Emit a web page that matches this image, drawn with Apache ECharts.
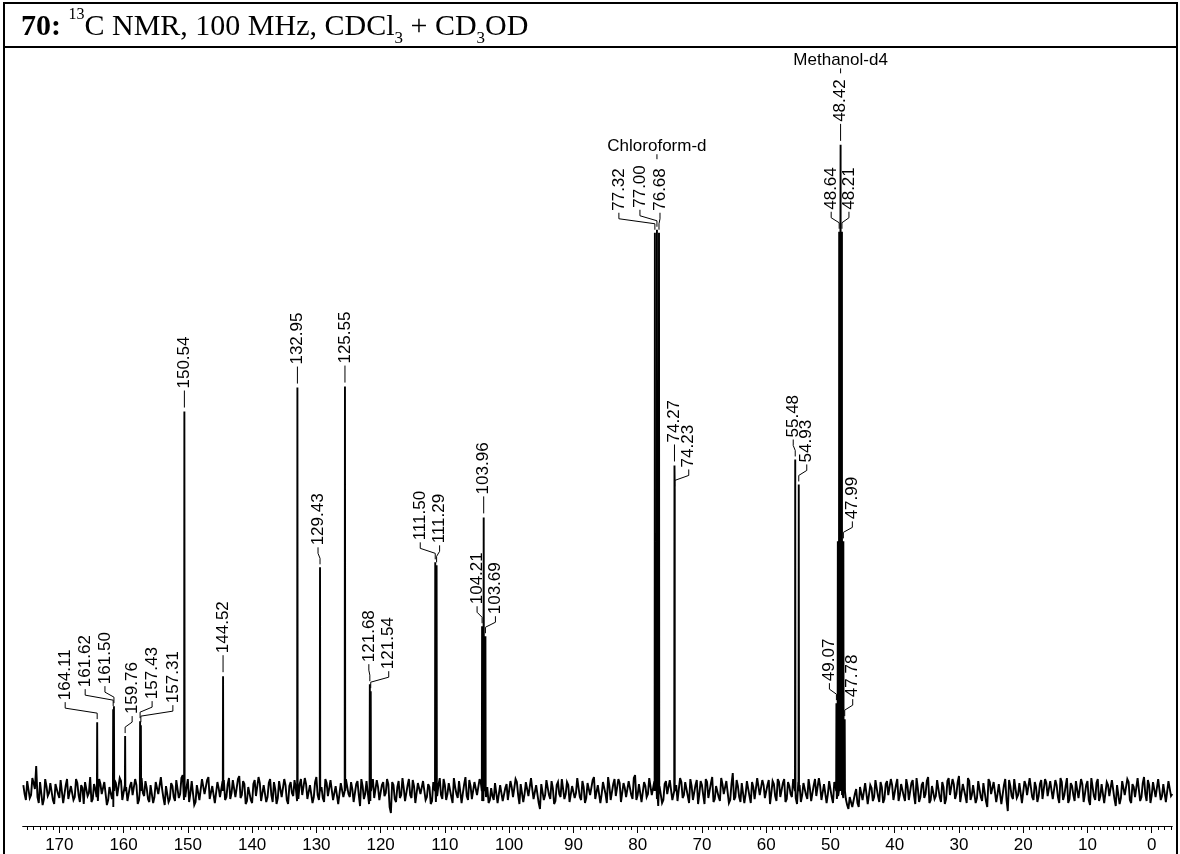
<!DOCTYPE html>
<html>
<head>
<meta charset="utf-8">
<script src="https://cdn.jsdelivr.net/npm/echarts@6/dist/echarts.min.js"></script>
<style>
html,body{margin:0;padding:0;background:#fff;}
#chart{width:1180px;height:854px;}
</style>
</head>
<body>
<div id="chart"></div>
<script>
// ---------------- DATA ----------------
// Peak positions (ppm) and peak heights (intensity, arbitrary units above baseline)
const peakPpm = [164.11, 161.62, 161.50, 159.76, 157.43, 157.31, 150.54, 144.52,
  132.95, 129.43, 125.55, 121.68, 121.54, 111.50, 111.29, 104.21, 103.96, 103.69,
  77.32, 77.00, 76.68, 74.27, 74.23, 55.48, 54.93,
  49.07, 48.85, 48.64, 48.42, 48.21, 47.99, 47.78];
const peakHeight = [69, 82, 85, 55, 70, 66, 380, 115,
  404, 224, 405, 107, 100, 229, 226, 165, 274, 155,
  559, 562, 559, 326, 302, 332, 307,
  88, 250, 560, 647, 560, 250, 72];
// Peak-picking labels shown on the spectrum
const labelledPeaks = ['164.11', '161.62', '161.50', '159.76', '157.43', '157.31', '150.54', '144.52',
  '132.95', '129.43', '125.55', '121.68', '121.54', '111.50', '111.29', '104.21', '103.96', '103.69',
  '77.32', '77.00', '76.68', '74.27', '74.23', '55.48', '54.93',
  '49.07', '48.64', '48.42', '48.21', '47.99', '47.78'];
// Solvent annotations
const solventNames = ['Chloroform-d', 'Methanol-d4'];
const solventPeaks = ['77.00', '48.42'];
// Axis tick labels (ppm)
const tickLabels = [170, 160, 150, 140, 130, 120, 110, 100, 90, 80, 70, 60, 50, 40, 30, 20, 10, 0];
const minorTicks = [];
for (let v = -3; v <= 175; v++) if (v % 10 !== 0) minorTicks.push(v);
// Baseline noise: one value per 0.4 ppm from 175.6 ppm down to -3.2 ppm
const noiseStartPpm = 175.6;
const noiseStepPpm = 0.4;
const noise = [
  6,-9,11,-4,8,25,-12,7,-8,5,-2,10,-13,6,-7,9,-3,12,-10,4,
  -6,8,-11,3,9,-5,14,-8,2,-10,7,-4,11,-9,5,-16,8,-3,10,-7,
  4,-12,9,-2,6,-9,13,-5,3,-11,8,-6,10,-4,2,-14,7,-8,5,-10,
  9,-3,16,-6,12,-2,8,-11,4,-7,10,-5,14,-9,6,-13,3,-4,11,-6,
  13,-2,9,-8,15,-4,7,-10,5,-12,11,-3,8,-9,4,-6,12,-11,2,-7,
  10,-4,6,-13,9,-5,3,-8,12,-2,7,-10,5,-6,14,-9,4,-11,8,-3,
  11,-7,6,-12,9,-4,13,-6,2,-9,10,-15,5,-3,8,-10,12,-5,4,-8,
  9,-2,7,-22,6,-11,10,-4,3,-9,12,-7,5,-13,8,-3,11,-6,4,-10,
  7,-5,13,-8,6,-3,10,-12,4,-7,9,-2,14,-9,5,-6,11,-4,8,-10,
  -6,-12,3,-9,-2,-14,5,-8,7,-11,4,-5,9,-13,6,-3,10,-7,2,-9,
  8,-18,5,-4,12,-8,3,-10,9,-6,13,-3,6,-11,7,-2,15,-9,4,-7,
  10,-5,14,-10,6,-3,9,-12,5,-7,12,-4,8,-9,3,-6,11,-8,16,-4,
  7,-10,5,-3,12,-6,8,-15,4,-9,10,-2,13,-7,6,-11,9,-4,7,-12,
  5,-8,11,-3,6,-13,9,-5,14,-8,3,-10,7,-4,12,-9,18,-6,5,-11,
  8,-3,10,-12,4,-7,13,-5,6,-9,11,-2,7,-10,9,-4,12,-8,5,-6,
  10,-13,6,-4,9,-8,3,-11,12,-6,5,-9,8,-3,11,-12,6,-5,9,-7,
  -8,-18,-4,-14,2,-16,5,-10,7,-12,3,-6,9,-11,4,-8,10,-5,6,-9,
  12,-4,8,-10,5,-7,11,-13,3,-6,9,-3,14,-9,6,-5,10,-11,4,-8,
  13,-6,7,-3,15,-9,5,-12,10,-4,8,-7,12,-10,6,-16,9,-5,11,-3,
  7,-11,12,-20,5,-8,10,-4,9,-13,6,-6,14,-9,4,-5,11,-10,8,-3,
  12,-7,6,-12,9,-4,13,-8,5,-10,11,-6,7,-3,10,-14,4,-9,12,-5,
  8,-11,6,-4,10,-15,5,-7,12,-3,9,-12,4,-8,11,-6,14,-10,6,-4,
  10,-7,13,-5,8,-12,11,-3
];
// Baseline noise at the in-between positions: one value per 0.4 ppm from 175.4 ppm down to -3.0 ppm
const noiseMidStartPpm = 175.4;
const noiseMid = [
  -3,10,-7,13,2,-6,9,-14,12,-5,8,-9,7,-3,11,-12,6,-8,5,-9,
  12,-4,6,-13,8,-2,-11,7,-6,12,-3,9,-14,4,-8,11,-5,13,-9,6,
  -10,5,-4,12,-13,7,-2,10,-8,6,-12,9,-3,14,-7,5,-11,8,-6,11,
  -7,13,-9,4,-11,10,-14,6,-9,12,-3,11,-8,5,-12,9,-6,10,-9,7,
  -8,11,-6,12,-7,10,-13,4,-9,7,-5,14,-10,6,-11,8,-4,9,-13,10,
  -6,12,-9,5,-2,11,-10,7,-4,13,-8,6,-12,9,-4,10,-7,12,-5,11,
  -9,5,-13,8,-6,12,-3,9,-11,7,-4,12,-8,10,-13,5,-7,11,-9,6,
  -5,12,-16,9,-8,4,-7,13,-10,6,-4,11,-12,8,-3,10,-9,7,-13,9,
  -11,6,-4,12,-9,8,-6,13,-3,10,-12,7,-5,11,-8,9,-4,12,-10,5,
  4,-9,-5,8,-12,6,-10,3,-9,10,-6,12,-4,7,-11,9,-5,13,-8,6,
  -12,7,-9,11,-4,10,-13,6,-3,12,-8,9,-11,5,-7,13,-6,10,-12,8,
  -4,11,-8,6,-12,9,-3,14,-9,7,-5,12,-11,8,-6,10,-4,13,-9,7,
  -11,9,-6,13,-4,10,-8,5,-12,7,-3,11,-9,6,-10,13,-7,9,-5,12,
  -9,6,-13,10,-4,12,-7,8,-11,5,-6,13,-3,10,-12,7,-9,11,-6,8,
  -12,10,-5,9,-8,13,-4,11,-7,6,-13,10,-5,12,-6,8,-11,9,-3,12,
  -7,9,-11,8,-4,12,-10,6,-5,13,-9,7,-12,10,-6,9,-8,11,-4,13,
  -14,-6,-16,-3,-12,4,-9,8,-13,6,-10,11,-5,9,-12,7,-4,12,-9,6,
  -10,7,-5,12,-9,8,-4,13,-11,6,-7,10,-12,5,-8,11,-6,9,-13,10,
  -4,12,-8,9,-11,7,-5,13,-9,6,-12,10,-6,8,-10,12,-3,9,-11,7,
  -13,6,-9,11,-5,12,-7,8,-12,10,-4,13,-6,9,-11,7,-8,12,-5,10,
  -8,11,-6,13,-9,5,-12,8,-4,10,-7,12,-11,6,-9,13,-5,8,-10,7,
  -12,9,-5,11,-8,6,-13,10,-4,12,-9,7,-6,13,-10,8,-3,11,-12,9,
  -6,12,-9,7,-11,10,-5
];

// ---------------- LAYOUT (label placement, px offsets) ----------------
const labelShift = {
  '164.11': -32, '161.62': -28, '161.50': -9, '159.76': 7, '157.43': 12, '157.31': 32,
  '129.43': -2, '121.68': -1, '121.54': 18, '111.50': -15, '111.29': 3,
  '104.21': -5, '103.69': 10, '77.32': -36, '77.00': -17, '76.68': 1, '74.23': 14,
  '55.48': -2, '54.93': 8, '49.07': -7, '48.64': -8, '48.21': 7, '47.99': 9, '47.78': 8
};
const LABEL_FONT = 'Liberation Sans, Arial, sans-serif';
const LABEL_SIZE = 17;

// ---------------- BUILD ----------------
const spectrum = [];
noise.forEach((v, i) => spectrum.push([+(noiseStartPpm - i * noiseStepPpm).toFixed(2), v]));
noiseMid.forEach((v, i) => spectrum.push([+(noiseMidStartPpm - i * noiseStepPpm).toFixed(2), v]));
peakPpm.forEach((p, i) => {
  spectrum.push([p + 0.04, 0], [p, peakHeight[i]], [p - 0.04, 0]);
});
spectrum.sort((a, b) => b[0] - a[0]);

const labelData = labelledPeaks.map(k => {
  const p = parseFloat(k);
  return [p, peakHeight[peakPpm.indexOf(p)]];
});

const measureCtx = document.createElement('canvas').getContext('2d');
function textWidth(t, size, family) {
  measureCtx.font = size + 'px ' + family;
  return measureCtx.measureText(t).width;
}

function renderLabel(params, api) {
  const key = labelledPeaks[params.dataIndex];
  const pt = api.coord([api.value(0), api.value(1)]);
  const px = pt[0], topY = pt[1];
  const bent = key in labelShift;
  const lx = px + (bent ? labelShift[key] : 0);
  const children = [];
  let T;
  if (!bent) {
    T = topY - 23;
    children.push({type: 'line', shape: {x1: px, y1: T + 2, x2: px, y2: T + 19},
      style: {stroke: '#000', lineWidth: 1}});
  } else {
    T = topY - 22;
    children.push({type: 'polyline', shape: {points: [[lx, T + 2], [lx, T + 8], [px, T + 13], [px, T + 19]]},
      style: {stroke: '#000', fill: null, lineWidth: 1}});
  }
  children.push({type: 'text', x: lx, y: T, rotation: Math.PI / 2,
    style: {text: key, fontSize: LABEL_SIZE, fontFamily: LABEL_FONT, fill: '#000',
      align: 'left', verticalAlign: 'middle'}});
  const si = solventPeaks.indexOf(key);
  if (si >= 0) {
    const labelTop = T - textWidth(key, LABEL_SIZE, 'Liberation Sans');
    children.push({type: 'line', shape: {x1: px, y1: labelTop - 11, x2: px, y2: labelTop - 6},
      style: {stroke: '#000', lineWidth: 1}});
    children.push({type: 'text', x: px, y: labelTop - 19,
      style: {text: solventNames[si], fontSize: LABEL_SIZE, fontFamily: LABEL_FONT, fill: '#000',
        align: 'center', verticalAlign: 'middle'}});
  }
  return {type: 'group', children: children};
}

const chart = echarts.init(document.getElementById('chart'), null, {renderer: 'canvas'});
chart.setOption({
  animation: false,
  backgroundColor: '#fff',
  grid: {left: 22.7, right: 7.7, top: 47, bottom: 27},
  xAxis: [
    {
      type: 'value', min: -3.2, max: 175.7, inverse: true, position: 'bottom',
      axisLine: {show: true, onZero: false, lineStyle: {color: '#000', width: 1}},
      axisTick: {show: true, customValues: tickLabels, length: 7, lineStyle: {color: '#000', width: 1}},
      axisLabel: {show: true, customValues: tickLabels, fontSize: 17, color: '#000',
        fontFamily: LABEL_FONT, margin: 11},
      splitLine: {show: false}
    },
    {
      type: 'value', min: -3.2, max: 175.7, inverse: true, position: 'bottom',
      axisLine: {show: false, onZero: false},
      axisTick: {show: true, customValues: minorTicks, length: 4, lineStyle: {color: '#000', width: 1}},
      axisLabel: {show: false},
      splitLine: {show: false}
    }
  ],
  yAxis: {type: 'value', min: -35, max: 745, show: false},
  series: [
    {
      type: 'line', xAxisIndex: 0, data: spectrum, showSymbol: false, symbol: 'none',
      lineStyle: {color: '#000', width: 1.9, join: 'miter', miterLimit: 4}, silent: true
    },
    {
      type: 'custom', xAxisIndex: 0, data: labelData, renderItem: renderLabel, silent: true
    }
  ],
  graphic: [
    {type: 'rect', shape: {x: 4, y: 3, width: 1173, height: 870},
      style: {fill: 'none', stroke: '#000', lineWidth: 2}, silent: true},
    {type: 'line', shape: {x1: 4, y1: 47, x2: 1177, y2: 47},
      style: {stroke: '#000', lineWidth: 2}, silent: true},
    {type: 'text', x: 21, y: 7, silent: true,
      style: {
        text: '{b|70:} {sup|13}C NMR, 100 MHz, CDCl{sub|3} + CD{sub|3}OD',
        fontFamily: 'Liberation Serif', fontSize: 30, lineHeight: 40, fill: '#000',
        verticalAlign: 'top', align: 'left',
        rich: {
          b: {fontFamily: 'Liberation Serif', fontWeight: 'bold', fontSize: 30, lineHeight: 40},
          sup: {fontFamily: 'Liberation Serif', fontSize: 16, lineHeight: 31, verticalAlign: 'top'},
          sub: {fontFamily: 'Liberation Serif', fontSize: 17, lineHeight: 27, verticalAlign: 'bottom'}
        }
      }}
  ]
});
</script>
</body>
</html>
